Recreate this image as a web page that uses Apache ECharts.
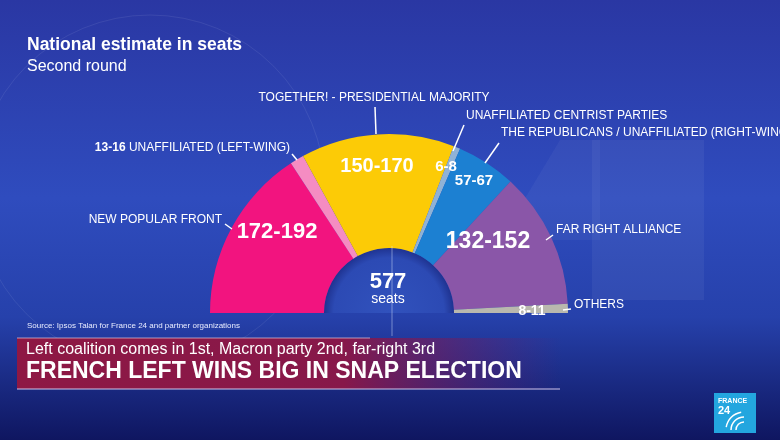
<!DOCTYPE html>
<html><head><meta charset="utf-8">
<script src="https://cdn.jsdelivr.net/npm/echarts@6/dist/echarts.min.js"></script>
<style>html,body{margin:0;padding:0;background:#1c2c96}#c{width:780px;height:440px}</style>
</head><body><div id="c"></div>
<script>
// ---- data ----
const parties = ['NEW POPULAR FRONT', 'UNAFFILIATED (LEFT-WING)', 'TOGETHER! - PRESIDENTIAL MAJORITY',
  'UNAFFILIATED CENTRIST PARTIES', 'THE REPUBLICANS / UNAFFILIATED (RIGHT-WING)', 'FAR RIGHT ALLIANCE', 'OTHERS'];
const seatRanges = ['172-192', '13-16', '150-170', '6-8', '57-67', '132-152', '8-11'];
const seatsMid = [182, 14.5, 160, 7, 62, 142, 9.5];
const totalSeats = 577;
const titleText = 'National estimate in seats';
const subtitleText = 'Second round';
const sourceText = 'Source: Ipsos Talan for France 24 and partner organizations';
const bannerSub = 'Left coalition comes in 1st, Macron party 2nd, far-right 3rd';
const bannerHead = 'FRENCH LEFT WINS BIG IN SNAP ELECTION';

// ---- styles / layout ----
const partyColors = ['#f2147f', '#f58cc2', '#fccb06', '#8fb2d6', '#1c80d2', '#8a56a8', '#b9b8ae'];
const insidePos = [[277, 232], null, [377, 166], [446, 167], [474, 181], [488, 242], [532, 311]];
const insideSize = [22, 0, 20, 15, 15, 23, 14];
const outsidePos = [
  {x: 222, y: 220, align: 'right', line: [[225, 224], [232, 229]]},
  {x: 290, y: 148, align: 'right', line: [[292, 154], [297, 160]]},
  {x: 374, y: 98, align: 'center', line: [[375, 107], [376, 134]]},
  {x: 466, y: 116, align: 'left', line: [[464, 125], [453, 151]]},
  {x: 501, y: 133, align: 'left', line: [[499, 143], [485, 163]]},
  {x: 556, y: 230, align: 'left', line: [[553, 235], [546, 240]]},
  {x: 574, y: 305, align: 'left', line: [[563, 310], [571, 309]]}
];
const CENTER = [389, 313];
const FONT = '"Liberation Sans", Arial, sans-serif';

const chart = echarts.init(document.getElementById('c'), null, {renderer: 'canvas'});

const sliceData = parties.map((p, i) => ({
  name: p, value: seatsMid[i], range: seatRanges[i],
  itemStyle: {color: partyColors[i]}
}));

chart.setOption({
  backgroundColor: {
    type: 'linear', x: 0, y: 0, x2: 0, y2: 1,
    colorStops: [
      {offset: 0, color: '#2a37a3'}, {offset: 0.45, color: '#2f4cbe'},
      {offset: 0.72, color: '#2641ab'}, {offset: 1, color: '#0f1660'}
    ]
  },
  title: {
    text: titleText, subtext: subtitleText, left: 22, top: 31, itemGap: 5,
    textStyle: {color: '#fff', fontSize: 17.5, fontWeight: 'bold', fontFamily: FONT},
    subtextStyle: {color: '#fff', fontSize: 16, fontFamily: FONT}
  },
  graphic: [
    // faint watermark shapes
    {type: 'rect', shape: {x: 592, y: 140, width: 112, height: 160}, style: {fill: 'rgba(255,255,255,0.05)'}, z: 0},
    {type: 'polygon', shape: {points: [[500, 240], [560, 140], [600, 140], [600, 240]]}, style: {fill: 'rgba(255,255,255,0.04)'}, z: 0},
    {type: 'circle', shape: {cx: 150, cy: 190, r: 175}, style: {fill: 'none', stroke: 'rgba(255,255,255,0.08)', lineWidth: 1}, z: 0},
    {type: 'line', shape: {x1: 392, y1: 246, x2: 392, y2: 336}, style: {stroke: 'rgba(220,230,255,0.45)', lineWidth: 1}, z: 10},
    // center text
    {type: 'text', x: 388, y: 282, style: {text: String(totalSeats), fill: '#fff', font: 'bold 22px ' + FONT, align: 'center', verticalAlign: 'middle'}, z: 20},
    {type: 'text', x: 388, y: 299, style: {text: 'seats', fill: '#fff', font: '14px ' + FONT, align: 'center', verticalAlign: 'middle'}, z: 20},
    // source
    {type: 'text', x: 27, y: 326, style: {text: sourceText, fill: '#e8ecff', font: '8px ' + FONT, verticalAlign: 'middle'}},
    // banner
    {type: 'rect', shape: {x: 17, y: 338, width: 545, height: 51}, style: {
      fill: {type: 'linear', x: 0, y: 0, x2: 1, y2: 0, colorStops: [
        {offset: 0, color: '#8e1844'}, {offset: 0.6, color: '#87184a'}, {offset: 1, color: 'rgba(100,30,110,0.0)'}]}}},
    {type: 'line', shape: {x1: 17, y1: 338, x2: 370, y2: 338}, style: {stroke: 'rgba(230,200,220,0.7)', lineWidth: 1}},
    {type: 'line', shape: {x1: 17, y1: 389, x2: 560, y2: 389}, style: {stroke: 'rgba(200,190,230,0.7)', lineWidth: 1.5}},
    {type: 'text', x: 26, y: 350, style: {text: bannerSub, fill: '#fff', font: '16px ' + FONT, verticalAlign: 'middle'}},
    {type: 'text', x: 26, y: 372, style: {text: bannerHead, fill: '#fff', font: 'bold 23px ' + FONT, verticalAlign: 'middle'}},
    // logo
    {type: 'rect', shape: {x: 714, y: 393, width: 42, height: 40}, style: {fill: '#23a6df'}},
    {type: 'text', x: 718, y: 401, style: {text: 'FRANCE', fill: '#fff', font: 'bold 7px ' + FONT, verticalAlign: 'middle'}},
    {type: 'text', x: 718, y: 411, style: {text: '24', fill: '#fff', font: 'bold 11px ' + FONT, verticalAlign: 'middle'}},
    {type: 'arc', shape: {cx: 744, cy: 430, r: 8, startAngle: Math.PI, endAngle: Math.PI * 1.5}, style: {stroke: '#fff', fill: 'none', lineWidth: 1.5}},
    {type: 'arc', shape: {cx: 744, cy: 430, r: 13, startAngle: Math.PI, endAngle: Math.PI * 1.5}, style: {stroke: '#fff', fill: 'none', lineWidth: 1.5}},
    {type: 'arc', shape: {cx: 744, cy: 430, r: 18, startAngle: Math.PI * 1.05, endAngle: Math.PI * 1.45}, style: {stroke: '#fff', fill: 'none', lineWidth: 1.5}}
  ],
  series: [
    {
      type: 'pie', name: 'inner', radius: [0, 65], center: CENTER,
      startAngle: 180, endAngle: 360, silent: true, z: 1,
      label: {show: false}, labelLine: {show: false},
      data: [{value: totalSeats, itemStyle: {color: {type: 'radial', x: CENTER[0], y: CENTER[1], r: 65, global: true,
        colorStops: [{offset: 0, color: '#3152bd'}, {offset: 0.85, color: '#2c4ab4'}, {offset: 1, color: '#1f3391'}]}}}]
    },
    {
      type: 'pie', name: 'seats', radius: [65, 179], center: CENTER,
      startAngle: 180, endAngle: 360, clockwise: true, avoidLabelOverlap: false, silent: true, z: 2,
      itemStyle: {borderWidth: 0},
      label: {
        show: true, position: 'inside', color: '#fff', fontWeight: 'bold', fontFamily: FONT,
        formatter: p => p.dataIndex === 1 ? '' : p.data.range
      },
      labelLine: {show: false},
      labelLayout: params => {
        const i = params.dataIndex;
        if (!insidePos[i]) return {};
        return {x: insidePos[i][0], y: insidePos[i][1], align: 'center', verticalAlign: 'middle',
          fontSize: insideSize[i], hideOverlap: false, moveOverlap: null};
      },
      data: sliceData.map((d, i) => Object.assign({}, d, {label: {fontSize: insideSize[i] || 10}}))
    },
    {
      type: 'pie', name: 'labels', radius: [65, 179], center: CENTER,
      startAngle: 180, endAngle: 360, clockwise: true, avoidLabelOverlap: false, silent: true, z: 3,
      itemStyle: {color: 'rgba(0,0,0,0)'},
      label: {
        show: true, position: 'outside', color: '#fff', fontSize: 12, fontFamily: FONT,
        formatter: p => p.dataIndex === 1 ? '{b|' + p.data.range + '} ' + p.name : p.name,
        rich: {b: {fontWeight: 'bold', fontSize: 12, color: '#fff', fontFamily: FONT}}
      },
      labelLine: {show: true, length: 5, length2: 5, lineStyle: {color: '#fff', width: 1.5}},
      labelLayout: params => {
        const o = outsidePos[params.dataIndex];
        return {x: o.x, y: o.y, align: o.align, verticalAlign: 'middle', labelLinePoints: o.line, hideOverlap: false};
      },
      data: sliceData.map(d => Object.assign({}, d, {itemStyle: {color: 'rgba(0,0,0,0)'}}))
    }
  ]
});
</script></body></html>
